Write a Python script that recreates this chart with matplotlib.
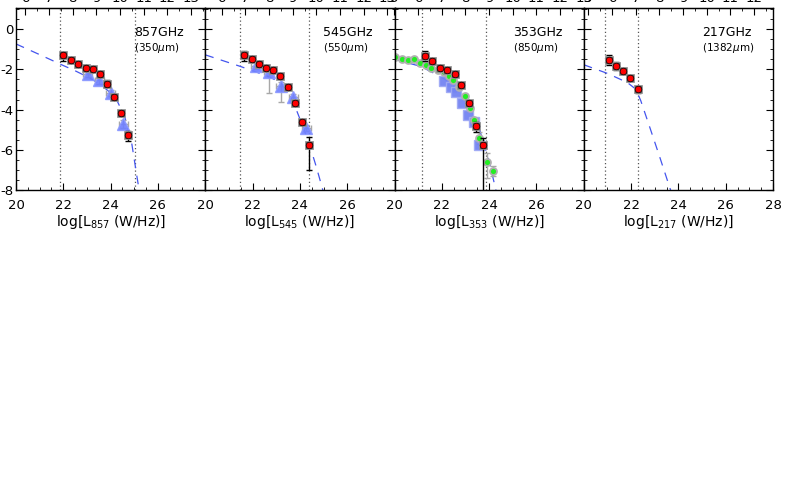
import matplotlib
matplotlib.use("Agg")
import matplotlib.pyplot as plt
from matplotlib.ticker import MultipleLocator

plt.rcParams["axes.unicode_minus"] = False

# ---------------- data ----------------
freq_labels = ["857GHz", "545GHz", "353GHz", "217GHz"]
wave_labels = [r"(350$\mu$m)", r"(550$\mu$m)", r"(850$\mu$m)", r"(1382$\mu$m)"]
band_subs = ["857", "545", "353", "217"]
top_offsets = [14.4, 14.7, 15.0, 15.2]
vline_lo = [21.87, 21.49, 21.16, 20.89]
vline_hi = [25.02, 24.40, 23.86, 22.31]

# red points (all panels)
red_x_857 = [21.99, 22.33, 22.62, 22.94, 23.25, 23.53, 23.84, 24.14, 24.45, 24.74]
red_y_857 = [-1.28, -1.53, -1.74, -1.92, -1.97, -2.22, -2.70, -3.35, -4.18, -5.25]
red_lo_857 = [0.33, 0.15, 0.15, 0.12, 0.12, 0.15, 0.15, 0.12, 0.12, 0.32]
red_hi_857 = [0.16, 0.15, 0.15, 0.12, 0.12, 0.15, 0.15, 0.12, 0.12, 0.18]

red_x_545 = [21.63, 21.96, 22.27, 22.58, 22.85, 23.16, 23.48, 23.79, 24.07, 24.38]
red_y_545 = [-1.28, -1.48, -1.73, -1.92, -2.02, -2.32, -2.86, -3.69, -4.62, -5.76]
red_lo_545 = [0.33, 0.12, 0.12, 0.12, 0.12, 0.12, 0.12, 0.12, 0.15, 1.20]
red_hi_545 = [0.21, 0.12, 0.12, 0.12, 0.12, 0.12, 0.12, 0.12, 0.15, 0.42]

red_x_353 = [21.31, 21.60, 21.91, 22.23, 22.54, 22.82, 23.14, 23.45, 23.76]
red_y_353 = [-1.36, -1.58, -1.91, -2.02, -2.22, -2.78, -3.69, -4.79, -5.76]
red_lo_353 = [0.25, 0.15, 0.12, 0.12, 0.12, 0.12, 0.12, 0.30, 2.30]
red_hi_353 = [0.25, 0.15, 0.12, 0.12, 0.12, 0.12, 0.12, 0.20, 0.35]

red_x_217 = [21.06, 21.37, 21.66, 21.96, 22.28]
red_y_217 = [-1.53, -1.82, -2.06, -2.43, -2.97]
red_lo_217 = [0.25, 0.20, 0.15, 0.15, 0.20]
red_hi_217 = [0.25, 0.20, 0.15, 0.15, 0.15]

# blue triangles
tri_x_857 = [23.03, 23.52, 24.00, 24.54]
tri_y_857 = [-2.22, -2.55, -3.17, -4.69]
tri_lo_857 = [0.15, 0.15, 0.15, 0.20]
tri_hi_857 = [0.15, 0.15, 0.15, 0.20]

tri_x_545 = [22.15, 22.69, 23.19, 23.73, 24.27]
tri_y_545 = [-1.85, -2.15, -2.81, -3.39, -4.90]
tri_lo_545 = [0.15, 1.00, 0.80, 0.15, 0.15]
tri_hi_545 = [0.15, 0.20, 0.20, 0.15, 0.15]

# green circles and blue squares (353 GHz)
grn_x_353 = [20.04, 20.33, 20.57, 20.81, 21.06, 21.32, 21.56, 21.84, 22.10,
             22.31, 22.48, 22.72, 22.97, 23.19, 23.37, 23.59, 23.90, 24.18]
grn_y_353 = [-1.40, -1.50, -1.56, -1.48, -1.69, -1.77, -1.91, -2.02, -2.14,
             -2.35, -2.55, -2.88, -3.34, -3.93, -4.49, -5.40, -6.58, -7.04]
grn_lo_353 = [0.08] * 15 + [0.30, 0.80, 0.25]
grn_hi_353 = [0.08] * 15 + [0.30, 0.45, 0.25]

sq_x_353 = [22.10, 22.38, 22.62, 22.85, 23.12, 23.36, 23.56]
sq_y_353 = [-2.60, -2.88, -3.14, -3.67, -4.24, -4.62, -5.77]

# dashed model curves
fit_x_857 = [20.0, 21.0, 22.0, 22.5, 23.0, 23.5, 24.0, 24.3, 24.6, 24.9, 25.1, 25.25]
fit_y_857 = [-0.74, -1.27, -1.81, -2.07, -2.36, -2.69, -3.16, -3.62, -4.37, -5.72, -7.22, -8.3]
fit_x_545 = [20.0, 21.5, 22.6, 23.2, 23.5, 23.8, 24.1, 24.4, 24.7, 25.0]
fit_y_545 = [-1.28, -1.86, -2.32, -2.65, -3.10, -3.85, -4.75, -5.70, -6.85, -8.1]
fit_x_353 = [20.0, 21.1, 21.8, 22.3, 22.8, 23.2, 23.6, 24.0, 24.3]
fit_y_353 = [-1.50, -1.85, -2.27, -2.62, -3.20, -3.95, -5.00, -6.55, -8.05]
fit_x_217 = [20.0, 21.0, 21.84, 22.2, 22.41, 22.8, 23.2, 23.62, 23.75]
fit_y_217 = [-1.77, -2.20, -2.65, -2.98, -3.55, -4.90, -6.30, -7.80, -8.25]

red_x = [red_x_857, red_x_545, red_x_353, red_x_217]
red_y = [red_y_857, red_y_545, red_y_353, red_y_217]
red_lo = [red_lo_857, red_lo_545, red_lo_353, red_lo_217]
red_hi = [red_hi_857, red_hi_545, red_hi_353, red_hi_217]
fit_x = [fit_x_857, fit_x_545, fit_x_353, fit_x_217]
fit_y = [fit_y_857, fit_y_545, fit_y_353, fit_y_217]

# ---------------- figure ----------------
fig = plt.figure(figsize=(7.89, 4.82), dpi=100)
W, H = 789.0, 482.0
left0 = 16.0
pw = 189.25
top_px, bot_px = 8.0, 190.5

for i in range(4):
    ax = fig.add_axes([(left0 + i * pw) / W, 1 - bot_px / H, pw / W, (bot_px - top_px) / H])
    ax.set_xlim(20, 28)
    ax.set_ylim(-8, 1.04)

    ax.axvline(vline_lo[i], color="#555555", ls=(0, (1, 2)), lw=0.9)
    ax.axvline(vline_hi[i], color="#555555", ls=(0, (1, 2)), lw=0.9)

    ax.plot(fit_x[i], fit_y[i], color="#4455EE", lw=0.9, ls=(0, (7, 6)))

    if i == 0:
        ax.errorbar(tri_x_857, tri_y_857, yerr=[tri_lo_857, tri_hi_857], xerr=0.2,
                    fmt="none", ecolor="#A8A8A8", elinewidth=1, capsize=2)
        ax.plot(tri_x_857, tri_y_857, "^", ms=8, mfc="#6E7EFF", mec="#8A98FF",
                alpha=0.9, ls="none")
    if i == 1:
        ax.errorbar(tri_x_545, tri_y_545, yerr=[tri_lo_545, tri_hi_545], xerr=0.2,
                    fmt="none", ecolor="#A8A8A8", elinewidth=1, capsize=2)
        ax.plot(tri_x_545, tri_y_545, "^", ms=8, mfc="#6E7EFF", mec="#8A98FF",
                alpha=0.9, ls="none")
    if i == 2:
        ax.errorbar(grn_x_353, grn_y_353, yerr=[grn_lo_353, grn_hi_353],
                    fmt="none", ecolor="#A8A8A8", elinewidth=1, capsize=2)
        ax.plot(sq_x_353, sq_y_353, "s", ms=6.5, mfc="#7484F2", mec="#A0AAF5",
                alpha=0.95, ls="none")
        ax.plot(grn_x_353, grn_y_353, "o", ms=5, mfc="#22EE22", mec="#B0B0B0",
                mew=1.3, ls="none")

    ax.errorbar(red_x[i], red_y[i], yerr=[red_lo[i], red_hi[i]], fmt="none",
                ecolor="black", elinewidth=1, capsize=2.2, zorder=4)
    ax.plot(red_x[i], red_y[i], "s", ms=5.4, mfc="#606060", mec="#9A9A9A", mew=0.6,
            ls="none", zorder=5)
    ax.plot(red_x[i], red_y[i], "o", ms=4.8, mfc="#FF0000", mec="black", mew=0.5,
            ls="none", zorder=6)

    ax.text(0.624, 0.868, freq_labels[i], transform=ax.transAxes, fontsize=9,
            ha="left", va="center")
    ax.text(0.624, 0.78, wave_labels[i], transform=ax.transAxes, fontsize=7.5,
            ha="left", va="center")

    if i < 3:
        ax.set_xticks([20, 22, 24, 26])
    else:
        ax.set_xticks([20, 22, 24, 26, 28])
    ax.xaxis.set_minor_locator(MultipleLocator(0.5))
    ax.set_yticks([-8, -6, -4, -2, 0])
    ax.yaxis.set_minor_locator(MultipleLocator(0.5))
    ax.tick_params(axis="both", which="both", direction="in", top=False,
                   right=True, labelsize=9.5)
    ax.tick_params(axis="x", which="major", length=5, pad=6)
    ax.tick_params(axis="y", which="major", length=5, pad=2)
    ax.tick_params(which="minor", length=2.5)
    if i > 0:
        ax.tick_params(axis="y", labelleft=False)

    ax.set_xlabel(r"log[L$_{%s}$ (W/Hz)]" % band_subs[i], fontsize=10, labelpad=1)

    off = top_offsets[i]
    sec = ax.secondary_xaxis("top", functions=(lambda x, o=off: x - o,
                                                lambda x, o=off: x + o))
    sec.xaxis.set_major_locator(MultipleLocator(1))
    sec.xaxis.set_minor_locator(MultipleLocator(0.5))
    sec.tick_params(axis="x", which="both", direction="in", labelsize=9.5, pad=2)
    sec.tick_params(which="major", length=5)
    sec.tick_params(which="minor", length=2.5)

    for s in ax.spines.values():
        s.set_linewidth(1.0)

fig.savefig("out.png", dpi=100)
